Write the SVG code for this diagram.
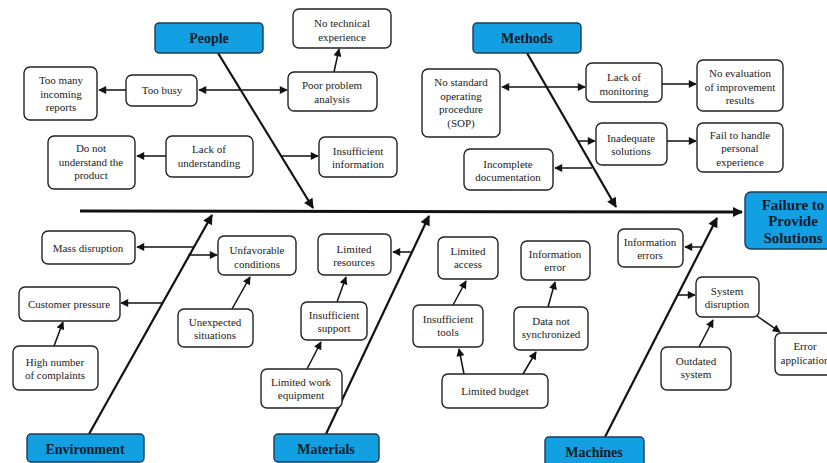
<svg xmlns="http://www.w3.org/2000/svg" width="827" height="463" viewBox="0 0 827 463">
<defs>
<marker id="ah" viewBox="0 0 10 10" refX="9" refY="5" markerWidth="9" markerHeight="8" markerUnits="userSpaceOnUse" orient="auto-start-reverse"><path d="M0,0 L10,5 L0,10 z" fill="#111"/></marker>
<marker id="ahb" viewBox="0 0 10 10" refX="9" refY="5" markerWidth="11" markerHeight="10" markerUnits="userSpaceOnUse" orient="auto"><path d="M0,0 L10,5 L0,10 z" fill="#111"/></marker>
</defs>
<style>
.n rect{fill:#fff;stroke:#222;stroke-width:1.4}
.h rect{fill:#12a0e2;stroke:#1b3a55;stroke-width:1.4}
text{font-family:"Liberation Serif","Times New Roman",serif;fill:#222;text-anchor:middle}
.n text{font-size:11px}
.h text{font-size:14px;font-weight:bold;fill:#0d1a2a}
.sp{stroke:#111;stroke-width:2.2;fill:none;marker-end:url(#ahb)}
.c{stroke:#111;stroke-width:1.5;fill:none;marker-end:url(#ah)}
.d{marker-start:url(#ah)}
</style>
<rect width="827" height="463" fill="#fff"/>
<g id="connectors">
<path d="M80,211 L742,212" stroke="#111" stroke-width="3" fill="none" marker-end="url(#ahb)"/>
<path class="sp" d="M218,53 L313,208"/>
<path class="sp" d="M527,53 L616,207"/>
<path class="sp" d="M89,434 L212,215"/>
<path class="sp" d="M326,434 L429,216"/>
<path class="sp" d="M605,437 L717,218"/>
<path class="c" d="M126,90 L99,90"/>
<path class="c d" d="M199,90 L287,90"/>
<path class="c" d="M166,156 L137,156"/>
<path class="c" d="M334,72 L339,49"/>
<path class="c" d="M281,156 L318,156"/>
<path class="c d" d="M502,87 L585,87"/>
<path class="c" d="M662,84 L696,84"/>
<path class="c" d="M578,141 L595,141"/>
<path class="c" d="M667,141 L696,141"/>
<path class="c" d="M592,168 L555,168"/>
<path class="c" d="M194,247 L137,247"/>
<path class="c" d="M188,255 L217,255"/>
<path class="c" d="M163,303 L121,303"/>
<path class="c" d="M54,346 L63,322"/>
<path class="c" d="M232,309 L250,277"/>
<path class="c" d="M412,252 L393,252"/>
<path class="c" d="M337,302 L346,277"/>
<path class="c" d="M307,369 L321,342"/>
<path class="c" d="M453,305 L466,281"/>
<path class="c" d="M464,374 L459,349"/>
<path class="c" d="M523,374 L536,352"/>
<path class="c" d="M548,307 L555,282"/>
<path class="c" d="M702,247 L685,247"/>
<path class="c" d="M678,295 L695,295"/>
<path class="c" d="M757,316 L780,332"/>
<path class="c" d="M699,347 L713,320"/>
</g>
<g id="people" class="h"><rect x="155" y="23" width="108" height="30" rx="4"/><text x="209" y="43">People</text></g>
<g id="methods" class="h"><rect x="473" y="23" width="108" height="30" rx="4"/><text x="527" y="43">Methods</text></g>
<g id="environment" class="h"><rect x="27" y="434" width="117" height="28" rx="4"/><text x="85" y="454">Environment</text></g>
<g id="materials" class="h"><rect x="274" y="434" width="105" height="28" rx="4"/><text x="326" y="454">Materials</text></g>
<g id="machines" class="h"><rect x="545" y="437" width="99" height="30" rx="4"/><text x="594" y="457">Machines</text></g>
<g id="failure" class="h"><rect x="745" y="192" width="92" height="57" rx="6"/><text x="793" y="210" style="font-size:15px">Failure to</text><text x="793" y="226" style="font-size:15px">Provide</text><text x="793" y="243" style="font-size:15px">Solutions</text></g>

<g id="too-many" class="n"><rect x="24" y="67" width="73" height="53" rx="6"/><text x="61" y="84">Too many</text><text x="61" y="98">incoming</text><text x="61" y="111">reports</text></g>
<g id="too-busy" class="n"><rect x="126" y="75" width="71" height="31" rx="6"/><text x="162" y="94">Too busy</text></g>
<g id="do-not" class="n"><rect x="48" y="136" width="87" height="53" rx="6"/><text x="91" y="152">Do not</text><text x="91" y="166">understand the</text><text x="91" y="179">product</text></g>
<g id="lack-understanding" class="n"><rect x="166" y="136" width="87" height="41" rx="6"/><text x="209" y="153">Lack of</text><text x="209" y="167">understanding</text></g>
<g id="no-tech" class="n"><rect x="293" y="9" width="98" height="39" rx="6"/><text x="342" y="27">No technical</text><text x="342" y="41">experience</text></g>
<g id="poor-problem" class="n"><rect x="288" y="72" width="89" height="39" rx="6"/><text x="332" y="89">Poor problem</text><text x="332" y="103">analysis</text></g>
<g id="insufficient-info" class="n"><rect x="319" y="137" width="78" height="40" rx="6"/><text x="358" y="155">Insufficient</text><text x="358" y="168">information</text></g>
<g id="sop" class="n"><rect x="422" y="69" width="78" height="68" rx="6"/><text x="461" y="86">No standard</text><text x="461" y="100">operating</text><text x="461" y="113">procedure</text><text x="461" y="127">(SOP)</text></g>
<g id="lack-monitoring" class="n"><rect x="586" y="63" width="76" height="39" rx="6"/><text x="624" y="81">Lack of</text><text x="624" y="95">monitoring</text></g>
<g id="no-eval" class="n"><rect x="697" y="60" width="86" height="51" rx="6"/><text x="740" y="77">No evaluation</text><text x="740" y="91">of improvement</text><text x="740" y="104">results</text></g>
<g id="inadequate" class="n"><rect x="596" y="123" width="71" height="42" rx="6"/><text x="631" y="142">Inadequate</text><text x="631" y="155">solutions</text></g>
<g id="fail-handle" class="n"><rect x="697" y="123" width="86" height="49" rx="6"/><text x="740" y="139">Fail to handle</text><text x="740" y="152">personal</text><text x="740" y="166">experience</text></g>
<g id="incomplete-doc" class="n"><rect x="464" y="149" width="89" height="41" rx="6"/><text x="508" y="168">Incomplete</text><text x="508" y="181">documentation</text></g>
<g id="mass-disruption" class="n"><rect x="42" y="231" width="93" height="33" rx="6"/><text x="88" y="252">Mass disruption</text></g>
<g id="unfavorable" class="n"><rect x="218" y="236" width="78" height="39" rx="6"/><text x="257" y="254">Unfavorable</text><text x="257" y="268">conditions</text></g>
<g id="customer-pressure" class="n"><rect x="19" y="287" width="101" height="34" rx="6"/><text x="69" y="308">Customer pressure</text></g>
<g id="high-number" class="n"><rect x="13" y="346" width="85" height="44" rx="6"/><text x="55" y="366">High number</text><text x="55" y="379">of complaints</text></g>
<g id="unexpected" class="n"><rect x="178" y="309" width="75" height="38" rx="6"/><text x="215" y="326">Unexpected</text><text x="215" y="339">situations</text></g>
<g id="limited-resources" class="n"><rect x="318" y="234" width="73" height="41" rx="6"/><text x="354" y="253">Limited</text><text x="354" y="266">resources</text></g>
<g id="insufficient-support" class="n"><rect x="301" y="302" width="66" height="38" rx="6"/><text x="334" y="319">Insufficient</text><text x="334" y="332">support</text></g>
<g id="limited-work" class="n"><rect x="261" y="369" width="81" height="39" rx="6"/><text x="301" y="386">Limited work</text><text x="301" y="399">equipment</text></g>
<g id="limited-access" class="n"><rect x="438" y="237" width="60" height="42" rx="6"/><text x="468" y="255">Limited</text><text x="468" y="268">access</text></g>
<g id="information-error" class="n"><rect x="521" y="241" width="69" height="39" rx="6"/><text x="555" y="258">Information</text><text x="555" y="271">error</text></g>
<g id="insufficient-tools" class="n"><rect x="413" y="305" width="70" height="42" rx="6"/><text x="448" y="323">Insufficient</text><text x="448" y="336">tools</text></g>
<g id="data-not-sync" class="n"><rect x="514" y="307" width="74" height="43" rx="6"/><text x="551" y="325">Data not</text><text x="551" y="338">synchronized</text></g>
<g id="limited-budget" class="n"><rect x="442" y="374" width="106" height="34" rx="6"/><text x="495" y="395">Limited budget</text></g>
<g id="information-errors" class="n"><rect x="618" y="229" width="65" height="38" rx="6"/><text x="650" y="246">Information</text><text x="650" y="259">errors</text></g>
<g id="system-disruption" class="n"><rect x="696" y="277" width="63" height="40" rx="6"/><text x="727" y="295">System</text><text x="727" y="308">disruption</text></g>
<g id="outdated-system" class="n"><rect x="661" y="347" width="70" height="43" rx="6"/><text x="696" y="365">Outdated</text><text x="696" y="378">system</text></g>
<g id="error-application" class="n"><rect x="775" y="333" width="60" height="42" rx="6"/><text x="805" y="350">Error</text><text x="805" y="364">application</text></g>
</svg>
